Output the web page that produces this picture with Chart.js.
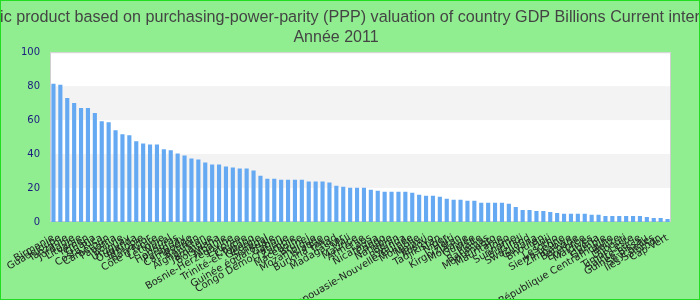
<!DOCTYPE html>
<html>
<head>
<meta charset="utf-8">
<script src="https://cdn.jsdelivr.net/npm/chart.js@4"></script>
<style>
  html, body { margin: 0; padding: 0; }
  #box { width: 698px; height: 298px; border: 1px solid #22dd22; background: #90ee90; }
</style>
</head>
<body>
<div id="box"><canvas id="gdpChart"></canvas></div>
<script>
// pays, année 2011
const countries = [
    'Birmanie', 'Guadeloupe', 'Tanzanie', 'Jordanie', 'Lituanie', 'Yémen', 'Ghana', 'Costa Rica',
    'Cameroun', 'Panama', 'Bolivie', 'Uruguay', 'Ouganda', 'Éthiopie', 'Salvador', "Côte d'Ivoire",
    'Lettonie', 'Népal', 'Honduras', 'Paraguay', 'Cambodge', 'Bahreïn', 'Afghanistan', 'Jamaïque',
    'Botswana', 'Albanie', 'Bosnie-Herzégovine', 'Estonie', 'Chypre', 'Trinité-et-Tobago', 'Géorgie',
    'Sénégal', 'Guinée équatoriale', 'Gabon', 'Congo Démocratique', 'Zambie', 'Macédoine', 'Brunei',
    'Mozambique', 'Islande', 'Burkina Faso', 'Tchad', 'Madagascar', 'Mali', 'Maurice', 'Arménie',
    'Laos', 'Nicaragua', 'Congo', 'Namibie', 'Bénin', 'Rwanda', 'Papouasie-Nouvelle-Guinée',
    'Mongolie', 'Malawi', 'Kosovo', 'Tadjikistan', 'Niger', 'Haïti', 'Kirghizistan', 'Moldavie',
    'Guinée', 'Malte', 'Bahamas', 'Monténégro', 'Mauritanie', 'Togo', 'Suriname', 'Burundi',
    'Swaziland', 'Guyana', 'Bhoutan', 'Fidji', 'Lesotho', 'Sierra Leone', 'Zimbabwe', 'Barbade',
    'Érythrée', 'Maldives', 'Libéria', 'Gambie', 'République Centrafricaine', 'Belize', 'Djibouti',
    'Timor-Leste', 'Sainte-Lucie', 'Guinée-Bissau', 'Seychelles', 'Îles Salomon', 'Cap-Vert'
];

const gdpValues = [
    81.4, 80.8, 73.1, 70.1, 67.1, 67.1, 64.2, 59.4, 58.8, 54.1,
    51.7, 51.1, 47.5, 46.3, 45.7, 45.7, 42.8, 42.2, 40.4, 39.2,
    37.4, 36.8, 35.0, 33.9, 33.9, 32.7, 32.1, 31.5, 31.5, 30.3,
    27.3, 25.5, 25.5, 24.9, 24.9, 24.9, 24.9, 23.8, 23.8, 23.8,
    23.2, 21.4, 20.8, 20.2, 20.2, 20.2, 19.0, 18.4, 17.8, 17.8,
    17.8, 17.8, 17.2, 16.0, 15.4, 15.4, 14.9, 13.7, 13.1, 13.1,
    12.5, 12.5, 11.3, 11.3, 11.3, 11.3, 10.7, 8.9, 7.1, 7.1,
    6.5, 6.5, 5.9, 5.3, 4.8, 4.8, 4.8, 4.8, 4.2, 4.2,
    3.6, 3.6, 3.6, 3.6, 3.6, 3.6, 3.0, 2.4, 2.4, 1.8
];

const yTicks = [0, 20, 40, 60, 80, 100];

const chartTitle = 'Gross domestic product based on purchasing-power-parity (PPP) valuation of country GDP Billions Current international dollar';
const chartSubtitle = 'Année 2011';

// fond blanc + bandes grises alternées
const plotBands = {
    id: 'plotBands',
    beforeDatasetsDraw(chart) {
        const { ctx, chartArea: a, scales: { y } } = chart;
        ctx.save();
        ctx.fillStyle = '#ffffff';
        ctx.fillRect(a.left, a.top, a.right - a.left, a.bottom - a.top);
        ctx.fillStyle = '#f3f3f3';
        for (let i = 1; i < yTicks.length - 1; i += 2) {
            const top = y.getPixelForValue(yTicks[i + 1]);
            const bottom = y.getPixelForValue(yTicks[i]);
            ctx.fillRect(a.left, top, a.right - a.left, bottom - top);
        }
        ctx.strokeStyle = '#cfcfcf';
        ctx.lineWidth = 1;
        ctx.strokeRect(a.left + 0.5, a.top + 0.5, a.right - a.left - 1, a.bottom - a.top - 1);
        ctx.restore();
    }
};

// le titre de Chart.js se comprime pour tenir dans la largeur : on le dessine nous-mêmes, sans maxWidth
const wideTitle = {
    id: 'wideTitle',
    afterDraw(chart) {
        const tb = chart.titleBlock;
        if (!tb) return;
        const { ctx } = chart;
        ctx.save();
        ctx.font = 'normal 16.15px "Liberation Sans"';
        ctx.fillStyle = '#444444';
        ctx.textAlign = 'center';
        ctx.textBaseline = 'middle';
        const cy = tb.top + tb.options.padding.top + 10.5;
        ctx.fillText(chartTitle, chart.width / 2, cy);
        ctx.restore();
    }
};

new Chart(document.getElementById('gdpChart'), {
    type: 'bar',
    data: {
        labels: countries,
        datasets: [{
            data: gdpValues,
            backgroundColor: '#65a9f2',
            barPercentage: 0.6,
            categoryPercentage: 1
        }]
    },
    options: {
        responsive: true,
        maintainAspectRatio: false,
        animation: false,
        layout: { padding: { left: 0, right: 28, top: 0, bottom: 0 } },
        plugins: {
            legend: { display: false },
            tooltip: { enabled: false },
            title: {
                display: true,
                text: chartTitle,
                color: 'rgba(0,0,0,0)',
                font: { family: 'Liberation Sans', size: 21, weight: 'normal', lineHeight: 1 },
                padding: { top: 6, bottom: 0 }
            },
            subtitle: {
                display: true,
                text: chartSubtitle,
                color: '#444444',
                font: { family: 'Liberation Sans', size: 16, weight: 'normal' },
                padding: { top: 0, bottom: 5 }
            }
        },
        scales: {
            x: {
                grid: { display: false },
                border: { display: false },
                ticks: {
                    autoSkip: false,
                    minRotation: 30,
                    maxRotation: 30,
                    color: '#222222',
                    font: { family: 'DejaVu Sans', size: 10 },
                    padding: 2
                },
                afterFit(scale) { scale.height = 77; }
            },
            y: {
                min: 0,
                max: 100,
                afterBuildTicks(scale) { scale.ticks = yTicks.map(v => ({ value: v })); },
                grid: { display: false, drawTicks: false },
                border: { display: false },
                ticks: {
                    color: '#1a1a80',
                    font: { family: 'DejaVu Sans', size: 10 },
                    padding: 10
                },
                afterFit(scale) { scale.width = 49; }
            }
        }
    },
    plugins: [plotBands, wideTitle]
});
</script>
</body>
</html>
